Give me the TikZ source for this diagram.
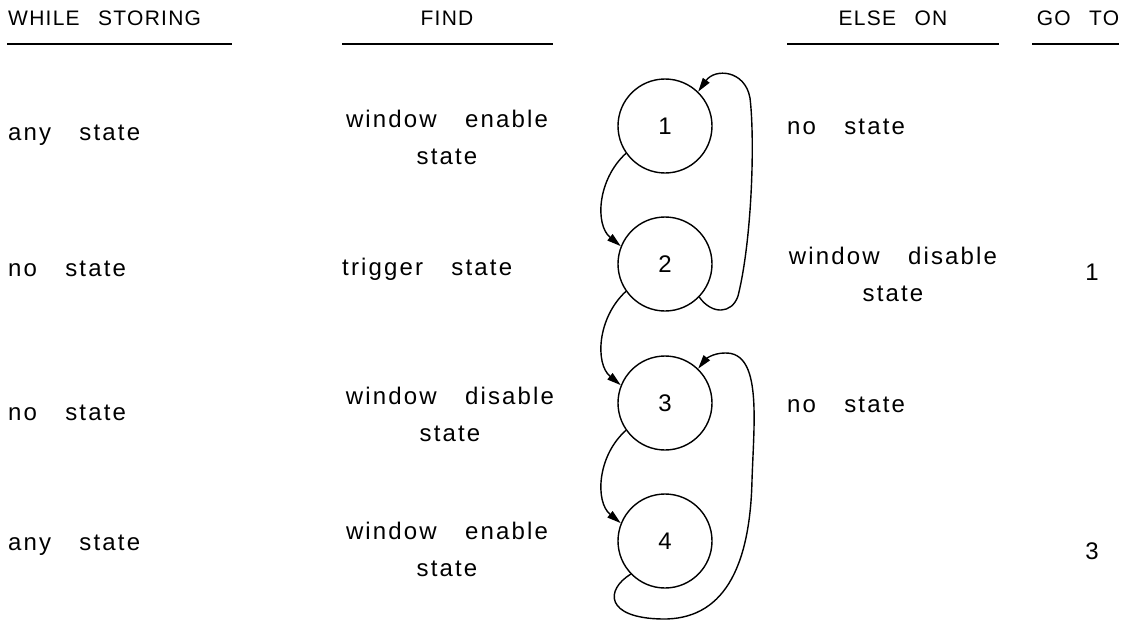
\documentclass[tikz,border=0pt]{standalone}
\usepackage{fontspec}
\setmainfont[LetterSpace=9,WordSpace=3.2]{Liberation Sans}
\newfontfamily\hdrfont[LetterSpace=6,WordSpace=2.6]{Liberation Sans}
\usetikzlibrary{arrows.meta}
\begin{document}
\begin{tikzpicture}[x=1pt,y=-1pt,
  txt/.style={inner sep=0pt,font=\fontsize{24}{28}\selectfont},
  htxt/.style={inner sep=0pt,font=\hdrfont\fontsize{21}{25}\selectfont},
  lft/.style={txt,anchor=west},
  two/.style={txt,align=center,font=\fontsize{24}{37}\selectfont},
  st/.style={draw,circle,line width=1.4pt,minimum size=94pt,inner sep=0pt,font=\fontsize{24}{28}\selectfont},
  hdr/.style={line width=2pt},
  con/.style={line width=1.4pt,-{Triangle[length=14pt,width=8pt]}}]
\useasboundingbox (0,0) rectangle (1139,623);
% headers
\node[htxt,anchor=base west] (h1) at (8,26) {WHILE STORING};
\node[htxt,anchor=base] (h2) at (447,26) {FIND};
\node[htxt,anchor=base] (h3) at (893,26) {ELSE ON};
\node[htxt,anchor=base] (h4) at (1078,26) {GO TO};
\draw[hdr] (7,44) -- (232,44);
\draw[hdr] (342,44) -- (553,44);
\draw[hdr] (787,44) -- (999,44);
\draw[hdr] (1032,44) -- (1119,44);
% states
\node[st] (s1) at (665,126) {1};
\node[st] (s2) at (665,264) {2};
\node[st] (s3) at (665,403) {3};
\node[st] (s4) at (665,541) {4};
% column 1
\node[lft] (w1) at (8,135) {any state};
\node[lft] (w2) at (8,269) {no state};
\node[lft] (w3) at (8,413) {no state};
\node[lft] (w4) at (8,545) {any state};
% column 2
\node[two] (f1) at (447,137) {window enable\\state};
\node[lft] (f2) at (342,269) {trigger state};
\node[two] (f3) at (450,414) {window disable\\state};
\node[two] (f4) at (447,549) {window enable\\state};
% column 3
\node[lft] (e1) at (787,127) {no state};
\node[two] (e2) at (893,274) {window disable\\state};
\node[lft] (e3) at (787,405) {no state};
% column 4
\node[txt] (g1) at (1092,272) {1};
\node[txt] (g2) at (1092,551) {3};
% connectors
\draw[con] (s1.215) .. controls (597,180) and (595,225) .. (s2.158);
\draw[con] (s2.215) .. controls (597,318) and (595,364) .. (s3.158);
\draw[con] (s3.215) .. controls (597,456) and (595,502) .. (s4.158);
\draw[con] (s2.-44) .. controls (712,315) and (732,314) .. (738,296)
  .. controls (752,240) and (755,140) .. (750,98)
  .. controls (745,70) and (715,68) .. (s1.46);
\draw[con] (s4.224) .. controls (605,590) and (605,618) .. (662,619)
  .. controls (722,620) and (750,570) .. (752,480)
  .. controls (754,420) and (762,352) .. (725,353)
  .. controls (712,353) and (705,360) .. (s3.46);
\end{tikzpicture}
\end{document}
